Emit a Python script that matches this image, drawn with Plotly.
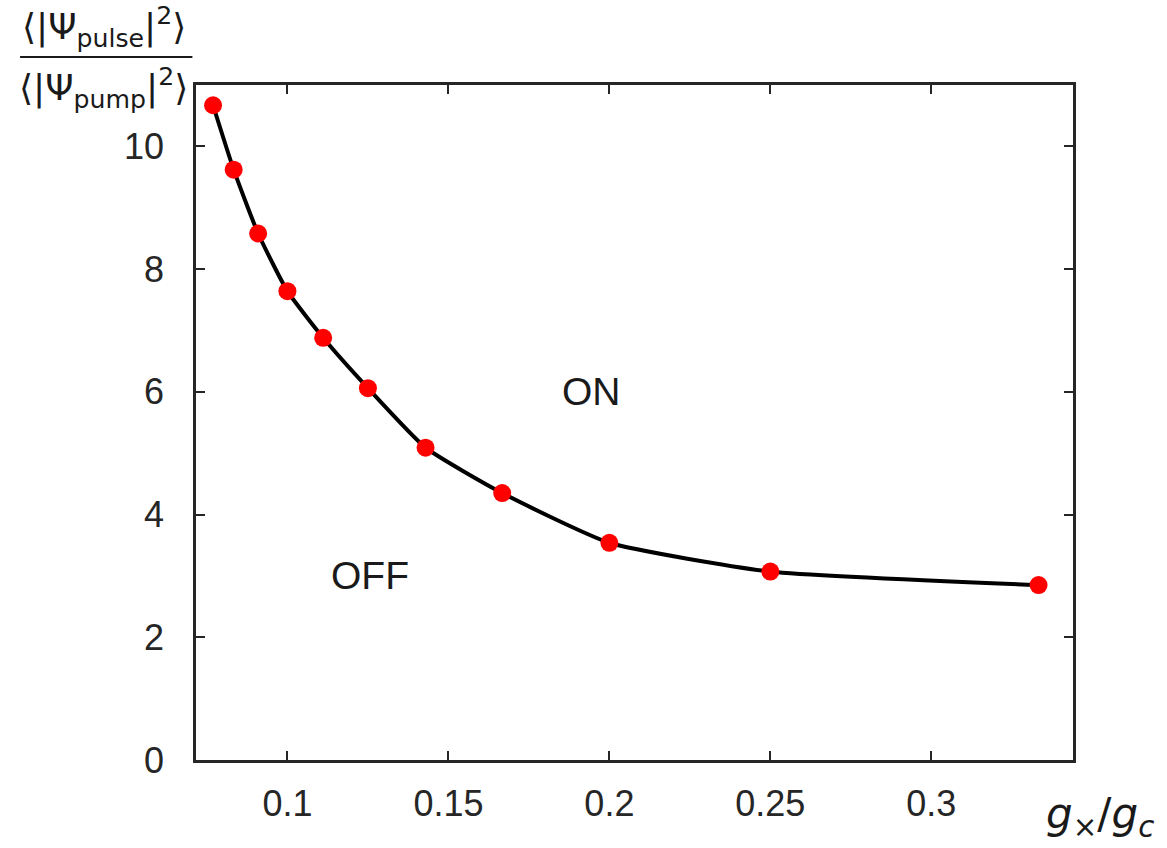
import plotly.graph_objects as go

x_vals = [0.0769, 0.0833, 0.0909, 0.1, 0.1111, 0.125, 0.1429, 0.1667, 0.2, 0.25, 0.3333]
y_vals = [10.67, 9.62, 8.58, 7.64, 6.88, 6.06, 5.09, 4.35, 3.54, 3.07, 2.85]
x_ticks = [0.1, 0.15, 0.2, 0.25, 0.3]
x_tick_labels = ["0.1", "0.15", "0.2", "0.25", "0.3"]
y_ticks = [0, 2, 4, 6, 8, 10]
y_tick_labels = ["0", "2", "4", "6", "8", "10"]

fig = go.Figure()
fig.add_trace(go.Scatter(
    x=x_vals, y=y_vals, mode="lines+markers",
    line=dict(color="black", width=4, shape="spline", smoothing=0.5),
    marker=dict(color="#ff0000", size=18, line=dict(width=0)),
    showlegend=False, hoverinfo="skip",
))

axis_common = dict(
    showgrid=False, zeroline=False, showline=True, linecolor="#262626", linewidth=2.5,
    mirror="ticks", ticks="inside", ticklen=9, tickwidth=2, tickcolor="#262626",
    tickfont=dict(family="Liberation Sans, Arial, sans-serif", size=36, color="#262626"),
)

fig.update_layout(
    width=1167, height=848,
    margin=dict(l=196, r=94, t=85, b=88),
    paper_bgcolor="white", plot_bgcolor="white",
    xaxis=dict(range=[0.0716, 0.344], tickvals=x_ticks, ticktext=x_tick_labels,
               ticklabelstandoff=10, **axis_common),
    yaxis=dict(range=[0, 11], tickvals=y_ticks, ticktext=y_tick_labels,
               ticklabelstandoff=22, **axis_common),
)

label_font = dict(family="DejaVu Sans, sans-serif", size=36, color="#1a1a1a")
PH = 675.0
PW = 977.0

fig.add_annotation(text="⟨|Ψ<sub>pulse</sub>|<sup>2</sup>⟩", xref="paper", yref="paper",
                   x=-196/PW, y=1 + 30/PH, xanchor="left", yanchor="bottom",
                   xshift=0, showarrow=False, font=label_font)
fig.add_annotation(text="⟨|Ψ<sub>pump</sub>|<sup>2</sup>⟩", xref="paper", yref="paper",
                   x=-196/PW, y=1 + 25/PH, xanchor="left", yanchor="top",
                   xshift=-3, showarrow=False, font=label_font)
fig.add_shape(type="line", xref="paper", yref="paper",
              x0=-196/PW, x1=-4/PW, y0=1 + 28/PH, y1=1 + 28/PH,
              line=dict(color="#1a1a1a", width=2))

fig.add_annotation(text="<i>g</i><sub>×</sub>/<i>g<sub>c</sub></i>", xref="paper", yref="paper",
                   x=1 + 93/PW, y=-86/PH, xanchor="right", yanchor="bottom",
                   showarrow=False, font=dict(family="DejaVu Sans, sans-serif", size=42, color="#1a1a1a"))

text_font = dict(family="Liberation Sans, Arial, sans-serif", size=39, color="#1a1a1a")
fig.add_annotation(text="ON", x=0.1945, y=6.0, showarrow=False, font=text_font)
fig.add_annotation(text="OFF", x=0.1255, y=3.0, showarrow=False, font=text_font)

fig.write_html("out.html")
